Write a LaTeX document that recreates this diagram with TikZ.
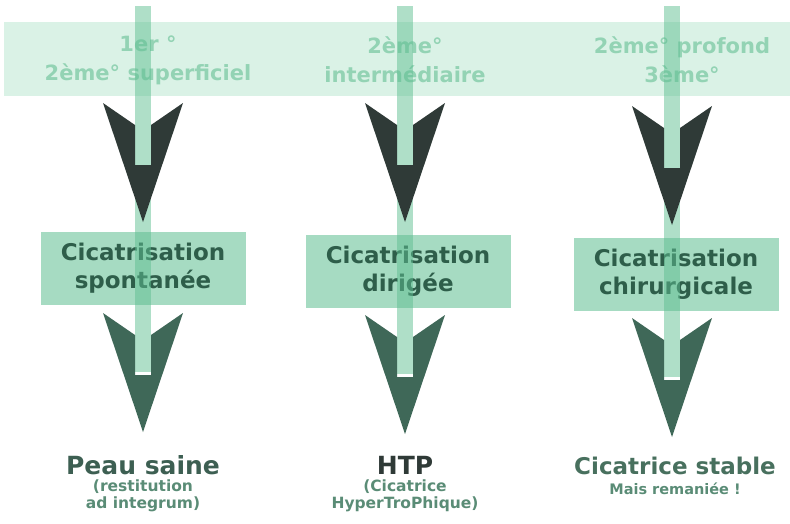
\documentclass[tikz,border=0pt]{standalone}
\usepackage{fontspec}
\setmainfont{DejaVu Sans}

\definecolor{fondbande}{HTML}{DAF2E6}
\definecolor{textebande}{HTML}{93D3B4}
\definecolor{fondcadre}{HTML}{A6DBC2}
\definecolor{textecadre}{HTML}{2E5E4A}
\definecolor{vert}{HTML}{5FBF92}
\definecolor{sombre}{HTML}{2F3A37}
\definecolor{sombrevert}{HTML}{3F6858}
\definecolor{titre}{HTML}{3D5F52}
\definecolor{soustitre}{HTML}{5A8C76}

\tikzstyle{bande}= [rectangle,fill=fondbande,inner sep=0pt]
\tikzstyle{degre}= [text=textebande,align=center,font=\bfseries\fontsize{21}{29}\selectfont]
\tikzstyle{cadre}= [rectangle,fill=fondcadre,text=textecadre,align=center,minimum width=205pt,minimum height=73pt,font=\bfseries\fontsize{23}{28}\selectfont]
\tikzstyle{tige}= [line width=16pt,draw=vert,opacity=0.5]
\tikzstyle{resultat}= [align=center,font=\bfseries\fontsize{25}{28}\selectfont]
\tikzstyle{note}= [align=center,text=soustitre,font=\bfseries\fontsize{15.5}{17}\selectfont]

% pointe de fleche : x, y du haut, couleur
\newcommand{\pointe}[3]{\fill[#3] (#1-40,#2) -- (#1-8,#2+22) -- (#1-8,#2+62) -- (#1+8,#2+62) -- (#1+8,#2+22) -- (#1+40,#2) -- (#1,#2+119) -- cycle;}

\begin{document}
\begin{tikzpicture}[x=1pt,y=-1pt]
		\useasboundingbox (0,0) rectangle (790,523);

		\node (bande) at (397,59) [bande,minimum width=786pt,minimum height=74pt] {};

		\node (d1) at (148,60) [degre] {1er °\\2ème° superficiel};
		\node (d2) at (405,60) [degre] {2ème°\\intermédiaire};
		\node (d3) at (682,60) [degre] {2ème° profond\\3ème°};

		\node (c1) at (143,268) [cadre] {Cicatrisation\\spontanée};
		\node (c2) at (408,271) [cadre] {Cicatrisation\\dirigée};
		\node (c3) at (676,274) [cadre] {Cicatrisation\\chirurgicale};

		\coordinate (h1) at (143,6);
		\coordinate (b1) at (143,372);
		\coordinate (h2) at (405,6);
		\coordinate (b2) at (405,374);
		\coordinate (h3) at (672,6);
		\coordinate (b3) at (672,377);

		\path[tige] (h1) edge[] node {} (b1);
		\path[tige] (h2) edge[] node {} (b2);
		\path[tige] (h3) edge[] node {} (b3);

		\pointe{143}{103}{sombre}
		\pointe{405}{103}{sombre}
		\pointe{672}{106}{sombre}

		\pointe{143}{313}{sombrevert}
		\pointe{405}{315}{sombrevert}
		\pointe{672}{318}{sombrevert}

		\node (r1) at (143,465) [resultat,text=titre] {Peau saine};
		\node (n1) at (143,496) [note] {(restitution\\ad integrum)};

		\node (r2) at (405,465) [resultat,text=sombre] {HTP};
		\node (n2) at (405,496) [note] {(Cicatrice\\HyperTroPhique)};

		\node (r3) at (675,466) [resultat,text=soustitre!80!black,font=\bfseries\fontsize{23}{26}\selectfont] {Cicatrice stable};
		\node (n3) at (675,489) [note,font=\bfseries\fontsize{14.5}{17}\selectfont] {Mais remaniée !};

\end{tikzpicture}
\end{document}
